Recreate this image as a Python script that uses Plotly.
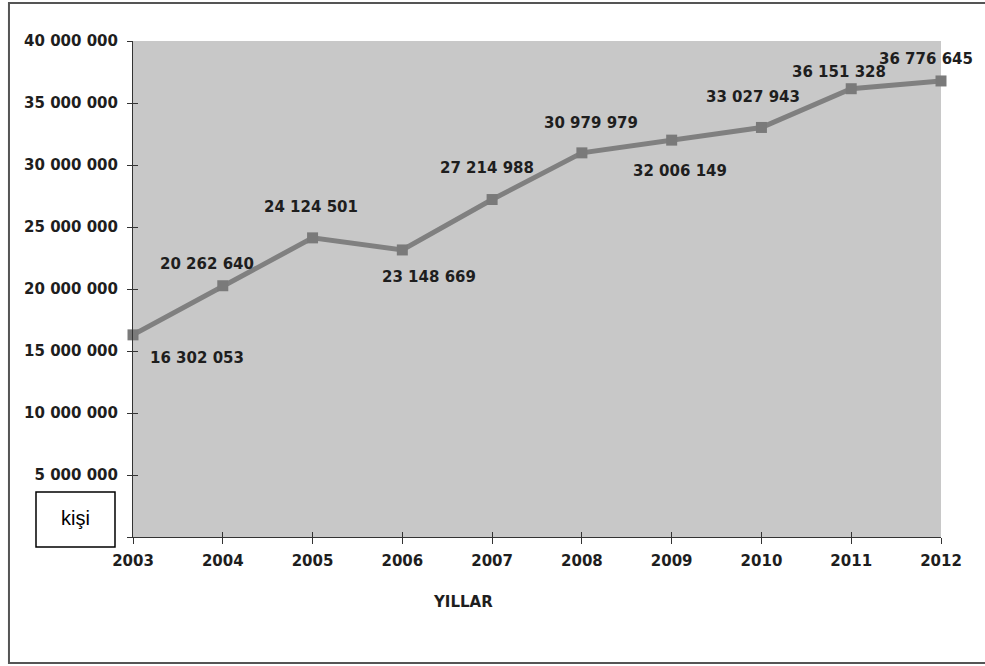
import plotly.graph_objects as go

# Yearly figures (kişi)
years = [2003, 2004, 2005, 2006, 2007, 2008, 2009, 2010, 2011, 2012]
values = [16302053, 20262640, 24124501, 23148669, 27214988,
          30979979, 32006149, 33027943, 36151328, 36776645]
y_ticks = [0, 5000000, 10000000, 15000000, 20000000,
           25000000, 30000000, 35000000, 40000000]

# pixel offsets of each value label from its point
label_dx = [64, -16, -2, 27, -5, 9, 8, -8, -12, -15]
label_dy = [-23, 22, 31, -27, 32, 30, -31, 30, 17, 22]


def fmt(v):
    return f"{v:,}".replace(",", " ")


LINE = "#808080"
TXT = "#1e1e1e"
FONT = "DejaVu Sans"

fig = go.Figure()
fig.add_trace(go.Scatter(
    x=years, y=values, mode="lines+markers",
    line=dict(color=LINE, width=5),
    marker=dict(symbol="square", size=11, color="#7a7a7a"),
    hoverinfo="skip", showlegend=False, cliponaxis=False,
))
# invisible helper trace so the overlay axes (inner tick halves) are drawn
fig.add_trace(go.Scatter(
    x=years, y=values, xaxis="x2", yaxis="y2", mode="markers",
    marker=dict(opacity=0), hoverinfo="skip", showlegend=False,
))

for x, v, dx, dy in zip(years, values, label_dx, label_dy):
    fig.add_annotation(
        x=x, y=v, text=f"<b>{fmt(v)}</b>", showarrow=False,
        xshift=dx, yshift=dy, xanchor="center", yanchor="middle",
        font=dict(family=FONT, size=15, color=TXT),
    )

# units box
fig.add_shape(type="rect", xref="paper", yref="paper",
              x0=-0.12005, x1=-0.02228, y0=-0.0202, y1=0.0907,
              line=dict(color="black", width=1.5), fillcolor="white")
fig.add_annotation(xref="paper", yref="paper", x=-0.0712, y=0.0373,
                   xanchor="center", yanchor="middle",
                   text="kişi", showarrow=False,
                   font=dict(family="Liberation Sans", size=20, color="black"))

# axis title
fig.add_annotation(xref="paper", yref="paper", x=0.4084, y=-0.131,
                   xanchor="center", yanchor="middle",
                   text="<b>YILLAR</b>", showarrow=False,
                   font=dict(family=FONT, size=15, color=TXT))

# outer frame
fig.add_shape(type="rect", xref="paper", yref="paper",
              x0=-0.1535, x1=1.07, y0=-0.254, y1=1.0766,
              line=dict(color="#555555", width=2), layer="below")

axis_common = dict(showgrid=False, zeroline=False,
                   linecolor="#333333", linewidth=1, mirror=False)

fig.update_layout(
    width=985, height=666,
    margin=dict(l=133, r=44, t=41, b=129),
    paper_bgcolor="white", plot_bgcolor="#c8c8c8",
    xaxis=dict(range=[2003, 2012], tickmode="array", tickvals=years,
               ticktext=[str(y) for y in years], ticks="outside",
               ticklen=6, tickcolor="#333333", ticklabelstandoff=4,
               tickfont=dict(family=FONT, size=15, color=TXT, weight="bold"),
               **axis_common),
    yaxis=dict(range=[0, 40000000], tickmode="array", tickvals=y_ticks,
               ticktext=["" if t == 0 else fmt(t) for t in y_ticks],
               ticks="outside", ticklen=5, tickcolor="#333333",
               ticklabelstandoff=6,
               tickfont=dict(family=FONT, size=15, color=TXT, weight="bold"),
               **axis_common),
    xaxis2=dict(overlaying="x", matches="x", range=[2003, 2012],
                tickmode="array", tickvals=years, ticks="inside",
                ticklen=5, tickcolor="#333333", showticklabels=False,
                showline=False, showgrid=False, zeroline=False,
                anchor="y2", side="bottom"),
    yaxis2=dict(overlaying="y", matches="y", range=[0, 40000000],
                tickmode="array", tickvals=y_ticks, ticks="inside",
                ticklen=5, tickcolor="#333333", showticklabels=False,
                showline=False, showgrid=False, zeroline=False,
                anchor="x2", side="left"),
)

fig.write_html("out.html")
